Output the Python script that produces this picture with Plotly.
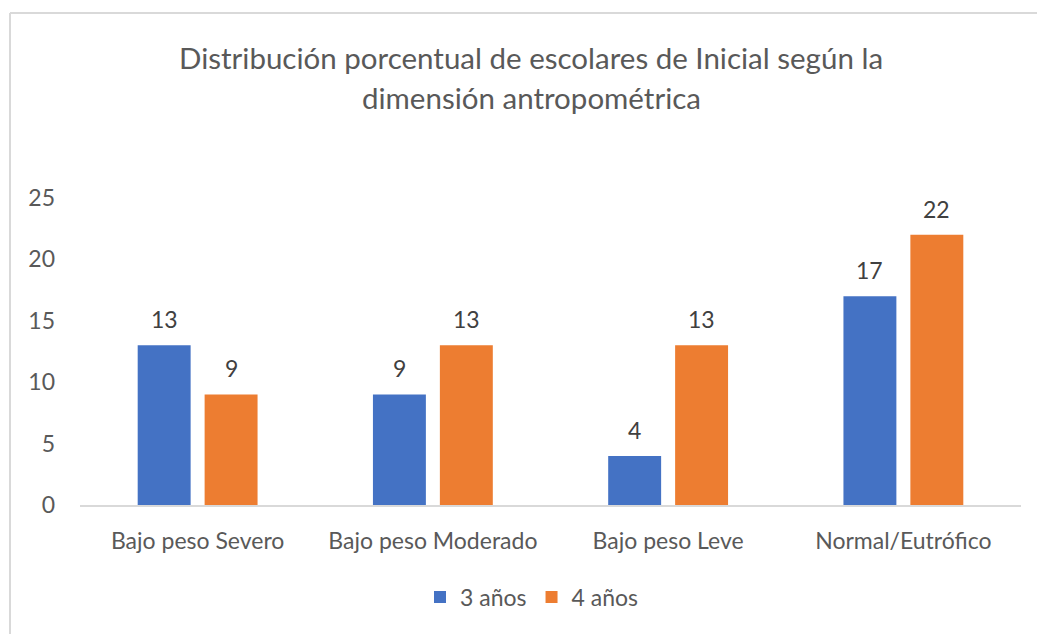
import plotly.graph_objects as go

categories = ["Bajo peso Severo", "Bajo peso Moderado", "Bajo peso Leve", "Normal/Eutrófico"]
series_names = ["3 años", "4 años"]
values_3 = [13, 9, 4, 17]
values_4 = [9, 13, 13, 22]
y_ticks = [0, 5, 10, 15, 20, 25]
title_lines = ["Distribución porcentual de escolares de Inicial según la", "dimensión antropométrica"]

colors = ["#4472C4", "#ED7D31"]
FONT = "Lato"
GRAY = "#595959"
FS = 23

W, H = 1037, 634
L, R, T, B = 80, 16, 198, 129
pw, ph = W - L - R, H - T - B


def px_x(p):
    return (p - L) / pw


def px_y(p):
    return (H - B - p) / ph


fig = go.Figure()
for name, vals, col in zip(series_names, [values_3, values_4], colors):
    fig.add_trace(go.Bar(x=categories, y=vals, name=name, marker=dict(color=col, line=dict(width=0))))

# data labels
slot = pw / len(categories) * (1 - 0.431) / 2
annotations = []
for vals, sgn in [(values_3, -1), (values_4, 1)]:
    for c, v in zip(categories, vals):
        annotations.append(dict(x=c, y=v, xref="x", yref="y", text=str(v), showarrow=False,
                                xshift=sgn * slot / 2, yshift=26, yanchor="middle",
                                font=dict(family=FONT, size=FS, color="#404040")))

# title lines
for txt, py in zip(title_lines, [57, 97]):
    annotations.append(dict(x=px_x(531), y=px_y(py), xref="paper", yref="paper", text=txt,
                            showarrow=False, xanchor="center", yanchor="middle",
                            font=dict(family=FONT, size=29.5, color=GRAY)))

shapes = [
    dict(type="line", xref="paper", yref="paper", x0=px_x(10), x1=px_x(1045), y0=px_y(13), y1=px_y(13),
         line=dict(color="#D9D9D9", width=2)),
    dict(type="line", xref="paper", yref="paper", x0=px_x(10), x1=px_x(10), y0=px_y(13), y1=px_y(645),
         line=dict(color="#D9D9D9", width=2)),
]

fig.update_layout(
    width=W, height=H,
    margin=dict(l=L, r=R, t=T, b=B),
    paper_bgcolor="white", plot_bgcolor="white",
    barmode="group", bargap=0.431, bargroupgap=0.209,
    font=dict(family=FONT, size=FS, color=GRAY),
    annotations=annotations,
    shapes=shapes,
    showlegend=True,
    legend=dict(orientation="h", x=px_x(532), y=px_y(597), xanchor="center", yanchor="middle",
                font=dict(family=FONT, size=FS, color=GRAY), itemwidth=30, traceorder="normal"),
    xaxis=dict(showline=True, linecolor="#D9D9D9", linewidth=2, showgrid=False, zeroline=False,
               ticks="", ticklabelstandoff=14, tickfont=dict(family=FONT, size=FS, color=GRAY)),
    yaxis=dict(range=[0, 25], tickvals=y_ticks, showgrid=False, zeroline=False, showline=False,
               ticks="", ticklabelstandoff=24, tickfont=dict(family=FONT, size=FS, color=GRAY)),
)

fig.write_html("out.html", config={"displayModeBar": False},
               post_script="document.body.style.margin='0';")
